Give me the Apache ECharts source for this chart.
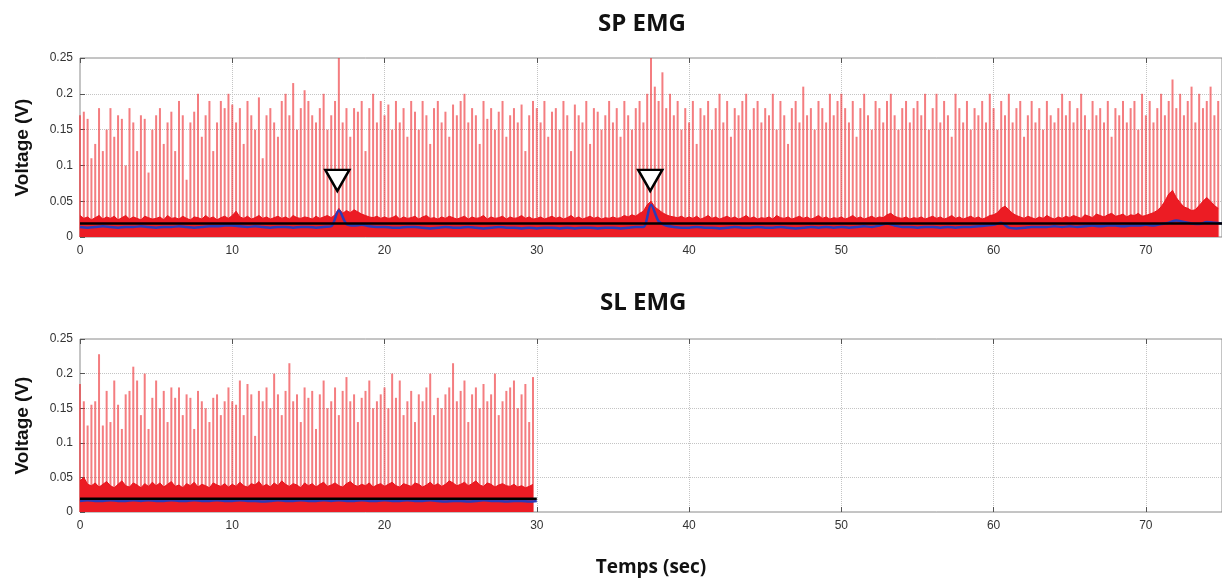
<!DOCTYPE html>
<html>
<head>
<meta charset="utf-8">
<title>EMG</title>
<script src="https://cdn.jsdelivr.net/npm/echarts@6/dist/echarts.min.js"></script>
<style>
  html, body { margin: 0; padding: 0; background: #fff; }
  #main { width: 1222px; height: 578px; }
</style>
</head>
<body>
<div id="main"></div>
<script>
// sample spacing (s) of the spike / noise arrays, and of the envelope arrays
var step = 0.25;
var envStep = 0.5;

var yTicks = [0, 0.05, 0.1, 0.15, 0.2, 0.25];
var xTicks = [0, 10, 20, 30, 40, 50, 60, 70];

// SP EMG : spike peaks (one every 0.25 s, 0 -> 74.75 s)
var spSpikes = [
  0.17,0.175,0.165,0.11,0.13,0.18,0.12,0.15,0.18,0.14,0.17,0.165,0.10,0.18,0.16,0.12,0.17,0.165,0.09,0.15,
  0.17,0.18,0.13,0.16,0.175,0.12,0.19,0.17,0.08,0.16,0.175,0.2,0.14,0.17,0.19,0.12,0.16,0.19,0.18,0.2,
  0.185,0.16,0.18,0.13,0.19,0.17,0.15,0.195,0.11,0.17,0.18,0.16,0.14,0.19,0.2,0.17,0.215,0.15,0.18,0.205,
  0.19,0.17,0.16,0.18,0.2,0.15,0.17,0.19,0.26,0.16,0.18,0.14,0.18,0.175,0.19,0.12,0.18,0.2,0.16,0.19,
  0.17,0.185,0.15,0.19,0.16,0.18,0.14,0.19,0.175,0.15,0.19,0.17,0.13,0.18,0.19,0.16,0.175,0.14,0.185,0.17,
  0.19,0.2,0.16,0.18,0.17,0.13,0.19,0.165,0.18,0.15,0.175,0.19,0.14,0.17,0.18,0.16,0.185,0.12,0.17,0.19,
  0.18,0.16,0.19,0.14,0.175,0.18,0.15,0.19,0.17,0.12,0.185,0.17,0.16,0.19,0.13,0.18,0.175,0.15,0.17,0.19,
  0.16,0.18,0.14,0.19,0.17,0.15,0.18,0.19,0.16,0.2,0.26,0.21,0.19,0.23,0.18,0.2,0.17,0.19,0.15,0.18,
  0.16,0.19,0.13,0.18,0.17,0.19,0.15,0.18,0.2,0.16,0.19,0.14,0.18,0.17,0.19,0.2,0.15,0.18,0.19,0.16,
  0.18,0.17,0.2,0.15,0.19,0.17,0.13,0.18,0.19,0.16,0.21,0.17,0.18,0.15,0.19,0.18,0.16,0.2,0.17,0.19,
  0.2,0.18,0.16,0.19,0.14,0.18,0.2,0.17,0.15,0.19,0.18,0.16,0.19,0.2,0.17,0.15,0.18,0.19,0.16,0.18,
  0.19,0.17,0.2,0.15,0.18,0.2,0.16,0.19,0.17,0.14,0.2,0.18,0.16,0.19,0.15,0.18,0.17,0.19,0.16,0.2,
  0.18,0.15,0.19,0.17,0.2,0.16,0.18,0.19,0.14,0.17,0.19,0.16,0.18,0.15,0.19,0.17,0.16,0.18,0.2,0.17,
  0.19,0.16,0.18,0.2,0.17,0.15,0.19,0.17,0.18,0.16,0.19,0.14,0.18,0.17,0.19,0.16,0.18,0.19,0.15,0.2,
  0.17,0.19,0.16,0.18,0.2,0.17,0.19,0.22,0.18,0.2,0.17,0.19,0.21,0.16,0.2,0.18,0.19,0.21,0.17,0.19
];

// SP EMG : top of the dense noise band (0.25 s)
var spNoise = [
  .03,.026,.028,.024,.027,.03,.025,.028,.026,.029,.024,.027,.03,.025,.028,.026,.024,.029,.027,.025,
  .026,.028,.024,.03,.026,.027,.025,.029,.026,.024,.028,.027,.025,.03,.026,.028,.024,.027,.029,.026,
  .03,.036,.028,.026,.029,.025,.027,.03,.026,.028,.025,.027,.029,.026,.028,.025,.03,.027,.026,.028,
  .027,.025,.029,.026,.028,.03,.027,.031,.04,.033,.037,.034,.038,.035,.032,.03,.028,.027,.029,.026,
  .028,.026,.027,.03,.025,.028,.026,.027,.029,.025,.028,.03,.026,.027,.025,.028,.026,.029,.027,.025,
  .027,.029,.025,.028,.026,.027,.03,.025,.028,.026,.027,.029,.025,.028,.026,.027,.03,.026,.028,.025,
  .026,.028,.025,.027,.029,.026,.028,.025,.027,.03,.026,.028,.025,.027,.029,.026,.028,.025,.027,.026,
  .028,.026,.027,.03,.028,.031,.029,.033,.036,.045,.05,.042,.038,.034,.031,.029,.028,.027,.029,.026,
  .028,.026,.029,.025,.027,.03,.026,.028,.025,.027,.029,.026,.028,.025,.027,.03,.026,.028,.025,.027,
  .026,.028,.025,.03,.027,.026,.028,.025,.027,.029,.026,.028,.025,.027,.03,.026,.028,.025,.027,.026,
  .028,.025,.027,.03,.026,.028,.025,.027,.029,.026,.028,.027,.031,.033,.029,.027,.026,.028,.025,.027,
  .026,.028,.025,.027,.029,.026,.028,.025,.027,.03,.026,.028,.025,.027,.029,.026,.028,.025,.027,.03,
  .031,.034,.04,.043,.038,.033,.03,.028,.026,.029,.027,.025,.028,.026,.03,.027,.025,.028,.026,.029,
  .027,.03,.028,.026,.031,.029,.027,.032,.03,.028,.031,.033,.029,.03,.032,.028,.031,.03,.033,.029,
  .03,.032,.034,.037,.042,.05,.06,.065,.055,.048,.042,.04,.037,.038,.044,.05,.055,.05,.044,.04
];

// SP EMG : smoothed envelope (0.5 s, 0 -> 75 s)
var spEnv = [
  .014,.013,.014,.015,.014,.013,.014,.014,.015,.014,
  .013,.014,.014,.015,.014,.013,.014,.015,.015,.016,
  .016,.015,.014,.015,.014,.013,.014,.014,.013,.014,
  .014,.013,.014,.015,.037,.018,.016,.017,.015,.014,
  .014,.013,.013,.014,.014,.013,.012,.013,.014,.013,
  .013,.014,.013,.012,.013,.014,.013,.013,.012,.013,
  .012,.013,.013,.012,.013,.012,.013,.013,.012,.013,
  .013,.012,.013,.014,.014,.045,.022,.016,.014,.013,
  .013,.014,.013,.013,.012,.013,.014,.013,.013,.014,
  .013,.013,.014,.013,.012,.013,.014,.013,.014,.013,
  .014,.013,.014,.015,.014,.016,.019,.016,.014,.014,
  .013,.014,.014,.013,.014,.013,.014,.014,.015,.016,
  .017,.02,.013,.012,.013,.014,.014,.014,.015,.014,
  .015,.014,.015,.016,.015,.016,.016,.015,.016,.016,
  .017,.016,.018,.02,.023,.021,.019,.018,.021,.02,
  .019
];

// SL EMG : spike peaks (0.25 s, 0 -> 29.75 s)
var slSpikes = [
  .185,.16,.125,.155,.16,.228,.125,.175,.13,.19,.155,.12,.17,.175,.21,.19,.14,.2,.12,.165,
  .19,.15,.175,.13,.18,.165,.18,.14,.17,.165,.12,.175,.16,.15,.13,.165,.17,.14,.16,.18,
  .16,.155,.19,.14,.185,.17,.11,.175,.16,.18,.15,.2,.17,.14,.175,.215,.16,.17,.13,.18,
  .165,.175,.12,.17,.19,.15,.16,.18,.14,.175,.195,.16,.17,.13,.165,.175,.19,.15,.16,.17,
  .18,.15,.2,.165,.19,.14,.16,.175,.13,.17,.16,.18,.2,.14,.165,.15,.17,.18,.215,.16,
  .175,.19,.13,.17,.18,.15,.185,.16,.17,.2,.14,.16,.175,.18,.19,.15,.17,.185,.13,.195
];

// SL EMG : top of the dense noise band (0.25 s)
var slNoise = [
  .045,.05,.04,.038,.042,.036,.04,.044,.038,.035,.04,.045,.038,.036,.042,.039,.035,.041,.037,.043,
  .038,.042,.036,.04,.044,.037,.039,.035,.041,.038,.043,.036,.04,.038,.035,.042,.039,.037,.041,.036,
  .04,.037,.043,.038,.036,.041,.039,.044,.037,.04,.036,.042,.038,.045,.04,.037,.041,.039,.035,.042,
  .038,.041,.036,.04,.043,.037,.039,.042,.038,.036,.041,.044,.039,.037,.04,.038,.042,.036,.039,.041,
  .037,.04,.043,.038,.036,.041,.039,.037,.042,.04,.036,.039,.043,.038,.041,.037,.04,.045,.042,.038,
  .04,.043,.038,.041,.045,.039,.037,.042,.04,.036,.039,.041,.038,.037,.04,.036,.038,.035,.037,.04
];

// SL EMG : smoothed envelope (0.5 s, 0 -> 30 s)
var slEnv = [
  .016,.017,.016,.016,.017,.016,.016,.017,.016,.017,
  .016,.016,.017,.016,.016,.017,.016,.016,.017,.016,
  .016,.017,.016,.016,.015,.016,.017,.016,.016,.017,
  .016,.016,.017,.016,.017,.016,.016,.017,.016,.016,
  .017,.016,.016,.017,.016,.016,.017,.016,.015,.016,
  .016,.015,.016,.017,.016,.016,.015,.016,.016,.015,
  .016
];

// detection thresholds (black lines) and marked events
var spThreshold = 0.019;
var slThreshold = 0.019;
var spEnd = 75, slEnd = 30;
var events = [[16.9, 0.079], [37.45, 0.079]];

function pairs(arr, dt) {
  return arr.map(function (v, i) { return [i * dt, v]; });
}

var chart = echarts.init(document.getElementById('main'));

var labelFont = { fontFamily: 'Liberation Sans', fontSize: 12, color: '#333' };

function xAxisPair(gridIndex, withName) {
  return [{
    type: 'value', gridIndex: gridIndex, min: 0, max: 75, interval: 10,
    axisLine: { show: false },
    axisTick: { inside: true, length: 5, lineStyle: { color: '#555' } },
    axisLabel: Object.assign({ margin: 8, showMaxLabel: false }, labelFont),
    splitLine: { show: true, lineStyle: { type: 'dotted', color: '#c4c4c4' } },
    name: withName ? 'Temps (sec)' : '',
    nameLocation: 'middle', nameGap: 46,
    nameTextStyle: { fontFamily: 'Open Sans', fontWeight: 'bold', fontSize: 19, color: '#111' }
  }, {
    type: 'value', gridIndex: gridIndex, position: 'top', min: 0, max: 75, interval: 10,
    axisLine: { show: false },
    axisTick: { inside: true, length: 5, lineStyle: { color: '#555' } },
    axisLabel: { show: false }, splitLine: { show: false }
  }];
}

function yAxis(gridIndex) {
  return {
    type: 'value', gridIndex: gridIndex, min: 0, max: 0.25, interval: 0.05,
    axisLine: { show: false },
    axisTick: { inside: true, length: 5, lineStyle: { color: '#555' } },
    axisLabel: Object.assign({ margin: 7 }, labelFont),
    splitLine: { show: true, lineStyle: { type: 'dotted', color: '#c4c4c4' } },
    name: 'Voltage (V)', nameLocation: 'middle', nameGap: 48, nameRotate: 90,
    nameTextStyle: { fontFamily: 'Liberation Sans', fontWeight: 'bold', fontSize: 19, color: '#111' }
  };
}

function panelSeries(xi, yi, spikes, noise, env, thr, end, marks) {
  var list = [{
    type: 'bar', xAxisIndex: xi, yAxisIndex: yi,
    data: pairs(spikes, step), barWidth: 2,
    itemStyle: { color: 'rgba(238, 45, 50, 0.62)' }, silent: true
  }, {
    type: 'line', xAxisIndex: xi, yAxisIndex: yi,
    data: pairs(noise, step), symbol: 'none',
    lineStyle: { width: 1, color: '#e8141c' },
    areaStyle: { color: '#ec1c24', opacity: 1 }
  }, {
    type: 'line', xAxisIndex: xi, yAxisIndex: yi,
    data: pairs(env, envStep), symbol: 'none', smooth: 0.3,
    lineStyle: { width: 2.5, color: '#2a3bb8' }
  }, {
    type: 'line', xAxisIndex: xi, yAxisIndex: yi,
    data: [[0, thr], [end, thr]], symbol: 'none',
    lineStyle: { width: 2.5, color: '#000' }
  }];
  if (marks) {
    list[3].markPoint = {
      symbol: 'path://M0,0 L24,0 L12,20 Z',
      symbolSize: [24, 21],
      itemStyle: { color: '#fff', borderColor: '#000', borderWidth: 2.5 },
      label: { show: false },
      data: marks.map(function (m) { return { coord: m }; })
    };
  }
  return list;
}

chart.setOption({
  animation: false,
  backgroundColor: '#fff',
  graphic: [
    { type: 'text', left: 598, top: 12, style: { text: 'SP EMG', font: 'bold 24px "Open Sans"', fill: '#111' } },
    { type: 'text', left: 600, top: 291, style: { text: 'SL EMG', font: 'bold 24px "Open Sans"', fill: '#111' } }
  ],
  grid: [
    { left: 80, top: 58, right: -6, height: 179, show: true, borderColor: '#8a8a8a', borderWidth: 1, backgroundColor: 'transparent' },
    { left: 80, top: 339, right: -6, height: 178, show: true, borderColor: '#8a8a8a', borderWidth: 1, backgroundColor: 'transparent' }
  ],
  xAxis: xAxisPair(0, false).concat(xAxisPair(1, true)),
  yAxis: [yAxis(0), yAxis(1)],
  series: panelSeries(0, 0, spSpikes, spNoise, spEnv, spThreshold, spEnd, events)
    .concat(panelSeries(2, 1, slSpikes, slNoise, slEnv, slThreshold, slEnd, null))
});
</script>
</body>
</html>
